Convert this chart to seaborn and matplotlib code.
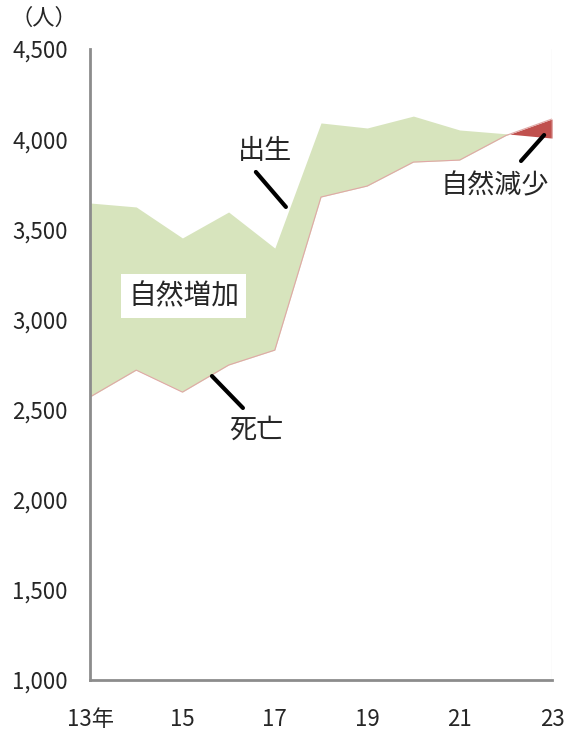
import numpy as np
import pandas as pd
import seaborn as sns
import matplotlib.pyplot as plt
from matplotlib.ticker import FuncFormatter

# 出生・死亡数（人）
years = [13, 14, 15, 16, 17, 18, 19, 20, 21, 22, 23]
births = [3646, 3624, 3452, 3596, 3396, 4090, 4062, 4128, 4051, 4030, 4006]
deaths = [2570, 2719, 2597, 2747, 2830, 3679, 3740, 3873, 3884, 4020, 4112]
xtick_labels = ["13年", "", "15", "", "17", "", "19", "", "21", "", "23"]

df = pd.DataFrame({"year": years, "births": births, "deaths": deaths})

sns.set_style("white")
plt.rcParams["font.family"] = ["Noto Sans CJK JP", "DejaVu Sans"]

fig = plt.figure(figsize=(5.68, 7.35), dpi=100)
ax = fig.add_axes([0.1585, 0.0748, 0.8133, 0.8585])

b = np.array(births, dtype=float)
d = np.array(deaths, dtype=float)
ax.fill_between(years, d, b, where=b >= d, interpolate=True,
                color="#D7E4BD", linewidth=0)
ax.fill_between(years, d, b, where=b < d, interpolate=True,
                color="#C0504D", linewidth=0)
sns.lineplot(data=df, x="year", y="deaths", ax=ax, color="#E0A8A6",
             linewidth=0.8)

ax.set_xlim(13, 23)
ax.set_ylim(1000, 4500)
ax.set_yticks(range(1000, 4501, 500))
ax.yaxis.set_major_formatter(FuncFormatter(lambda v, p: f"{int(v):,}"))
ax.set_xticks(years)
ax.set_xticklabels(xtick_labels)
ax.set_xlabel("")
ax.set_ylabel("")

for s in ["top", "right"]:
    ax.spines[s].set_visible(False)
for s in ["left", "bottom"]:
    ax.spines[s].set_color("#8C8C8C")
    ax.spines[s].set_linewidth(2)
ax.tick_params(axis="y", direction="inout", length=14, width=2,
               color="#8C8C8C", labelsize=16, pad=9)
ax.tick_params(axis="x", direction="in", length=7, width=2,
               color="#8C8C8C", labelsize=16, pad=20)
ax.axvline(23, color="#EEEEEE", linewidth=1)

# 注記
fig.text(0.018, 1 - 18 / 735, "（人）", fontsize=16, ha="left", va="center")
ax.text(15.03, 3130, "自然増加", fontsize=20, ha="center", va="center",
        bbox=dict(facecolor="white", edgecolor="none", pad=5))
ax.text(16.79, 3929, "出生", fontsize=19.5, ha="center", va="center")
ax.plot([16.59, 17.24], [3818, 3624], color="black", linewidth=3)
ax.text(16.61, 2387, "死亡", fontsize=19.5, ha="center", va="center")
ax.plot([15.64, 16.31], [2686, 2509], color="black", linewidth=3)
ax.text(21.77, 3740, "自然減少", fontsize=19.5, ha="center", va="center")
ax.plot([22.33, 22.83], [3879, 4023], color="black", linewidth=3)

plt.savefig("out.png", dpi=100)
